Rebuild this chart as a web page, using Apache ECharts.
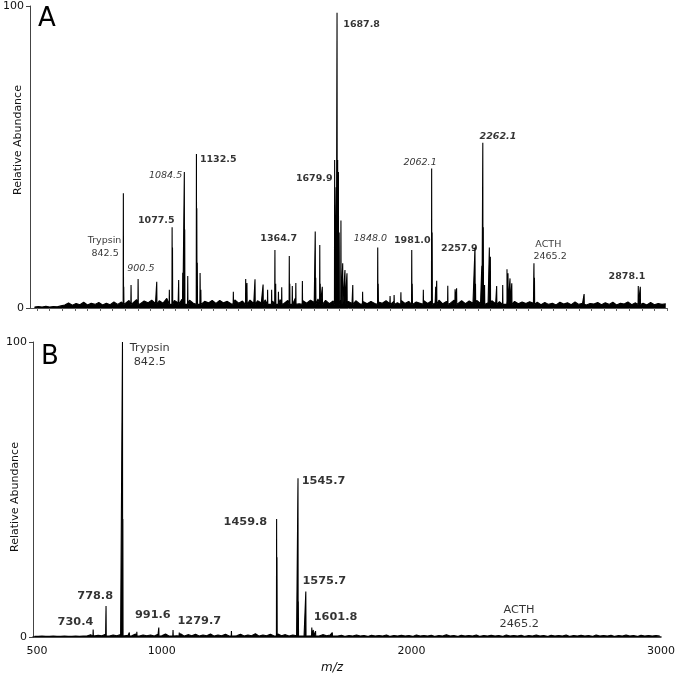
<!DOCTYPE html>
<html><head><meta charset="utf-8">
<script src="https://cdn.jsdelivr.net/npm/echarts@6/dist/echarts.min.js"></script>
<style>html,body{margin:0;padding:0;background:#fff}#c{width:678px;height:674px}</style>
</head><body><div id="c"></div>
<script>
// ---------- Panel A peaks (m/z, relative abundance) ----------
const peaksA_mz = [842.5, 844, 873, 901, 975, 1025, 1036, 1037.5, 1062, 1078, 1084.5, 1086, 1098, 1132.5, 1134, 1136, 1147, 1150,
  1279, 1328, 1333, 1365, 1397, 1415, 1431, 1444, 1447, 1458, 1471, 1501, 1503, 1513, 1527, 1553, 1604, 1606, 1622, 1624, 1632,
  1681, 1687, 1690.5, 1693, 1696, 1699, 1706, 1713, 1722, 1730, 1753, 1792, 1852, 1854, 1901, 1917, 1944, 1987, 1989, 2033,
  2066, 2068, 2082, 2086, 2130, 2159, 2165, 2238, 2240, 2265, 2269, 2271, 2276, 2295, 2299, 2324, 2348, 2365, 2369, 2377, 2384,
  2472, 2474, 2671, 2886, 2894];
const peaksA_h = [38, 7, 7.6, 9.6, 8.7, 6, 26.7, 20, 9.3, 11.7, 45, 26, 10.6, 51, 33, 15, 11.6, 6,
  5.4, 9.6, 8.3, 9.5, 7.8, 6, 6, 19.2, 8, 5.4, 6.9, 17.2, 8, 7.3, 8.3, 8.9, 25.3, 10, 20.9, 8, 7,
  49, 40, 97.8, 49, 45, 25, 29, 14.8, 12.6, 11.5, 7.6, 5.4, 20, 8, 4, 4.3, 5.2, 19.2, 8, 6,
  46.2, 25, 7, 9, 7.4, 6.2, 6.5, 20, 8, 14, 54.7, 26.7, 7.6, 20, 17, 7.3, 7.6, 12.8, 11.5, 9.8, 8.2,
  14.8, 10, 4.6, 7.3, 7];

// ---------- Panel B peaks ----------
const peaksB_mz = [725, 776.6, 842.5, 844, 870, 900, 988, 1045, 1070, 1279, 1460, 1461.5, 1545.7, 1547, 1577, 1601, 1607, 1616, 1683];
const peaksB_h  = [2.5, 10.5, 100, 40, 1.5, 1.8, 3.2, 2.4, 1.5, 2, 40, 27, 53.8, 12, 15.4, 3.2, 2.4, 2, 1.5];

// ---------- Baseline noise (sampled every 15 m/z from 490) ----------
const noiseStart = 490, noiseStep = 15;
const noiseA = [0.3,0.5,0.3,0.6,0.3,0.5,0.4,0.7,
  1.0,1.7,0.9,1.5,1.1,1.9,1.0,1.6,1.2,1.8,1.0,1.6,1.1,2.0,1.2,
  2.0,1.5,2.5,1.6,2.8,1.4,2.3,1.7,2.6,1.5,2.4,1.6,3.2,1.5,2.5,1.7,2.9,1.4,2.6,1.6,2.3,1.5,2.2,1.7,2.5,
  1.5,2.5,1.7,2.2,1.4,2.7,1.6,2.3,1.8,2.6,1.5,2.4,1.7,2.7,1.4,2.3,1.6,2.8,1.5,2.5,1.7,3.2,1.4,2.4,1.6,2.6,1.8,3.0,1.5,2.5,1.4,2.3,1.7,2.6,1.6,2.2,1.5,2.4,1.4,2.1,
  1.4,2.2,1.5,2.0,1.6,2.4,1.4,2.1,1.7,2.5,1.5,2.2,1.4,2.0,1.6,2.4,1.5,2.3,1.7,2.6,1.4,2.2,1.6,2.6,1.5,2.4,1.4,2.3,1.6,2.5,1.5,2.2,1.7,2.4,1.4,2.1,1.5,2.3,1.6,2.2,1.4,2.0,1.5,2.1,1.6,1.9,
  1.1,1.8,1.2,1.6,1.0,1.9,1.3,1.7,1.1,2.0,1.2,1.6,1.0,1.5,1.3,1.8,1.1,1.7,1.2,1.9,1.0,1.6,1.3,2.0,1.1,1.7,1.2,1.6,1.0,1.8,1.1,1.5,1.2,1.4];
const noiseB = [0.2,0.2,0.3,0.2,0.2,0.3,0.2,0.2,0.3,0.2,0.2,0.3,0.2,0.3,
  0.3,0.8,0.3,0.6,0.4,0.9,0.3,0.7,0.4,0.8,0.3,0.6,0.4,1.0,0.3,0.7,0.4,0.7,0.3,0.9,0.4,1.0,0.3,0.7,0.4,1.1,0.3,0.8,0.4,0.9,
  0.3,0.7,0.4,1.0,0.3,0.7,0.4,0.9,0.3,0.8,0.4,0.9,0.3,0.7,0.4,1.1,0.3,0.7,0.4,0.9,0.3,1.0,0.4,0.8,0.3,0.7,0.4,0.9,0.3,0.7,
  0.4,0.9,0.3,0.8,0.4,0.7,0.3,
  0.3,0.6,0.2,0.5,0.3,0.7,0.3,0.5,0.2,0.6,0.3,0.5,0.3,0.7,0.2,0.5,0.3,0.6,0.3,0.5,0.2,0.7,0.3,0.5,0.3,0.6,0.2,0.5,0.3,0.8,
  0.3,0.5,0.2,0.6,0.3,0.5,0.3,0.7,0.2,0.5,0.3,0.6,0.3,0.5,0.2,0.7,0.3,0.5,0.3,0.6,0.2,0.5,0.3,0.7,0.3,0.5,0.2,0.6,0.3,0.5,
  0.3,0.7,0.2,0.5,0.3,0.6,0.3,0.5,0.2,0.7,0.3,0.5,0.3,0.6,0.2,0.5,0.3,0.7,0.3,0.5,0.2,0.6,0.3,0.5,0.3,0.5,0.3];

// ---------- Annotations (text, m/z anchor, abundance anchor, style) ----------
const annA_text = ['Trypsin','842.5','900.5','1077.5','1084.5','1132.5','1364.7','1679.9','1687.8','1848.0','1981.0','2062.1','2257.9','2262.1','ACTH','2465.2','2878.1'];
const annA_mz   = [768, 770, 912, 973, 1010, 1219, 1459, 1600, 1788, 1823, 1989, 2020, 2176, 2329, 2529, 2536, 2841];
const annA_y    = [22.5, 18.1, 13.1, 29.1, 43.7, 49.0, 23.1, 42.9, 94.0, 23.1, 22.5, 48.2, 19.8, 56.7, 20.9, 17.0, 10.4];
const annA_sty  = ['n','n','i','b','i','b','b','b','b','i','b','i','b','bi','n','n','b'];

const annB_text = ['Trypsin','842.5','778.8','730.4','991.6','1279.7','1459.8','1545.7','1575.7','1601.8','ACTH','2465.2'];
const annB_mz   = [952, 952, 733, 654, 964, 1150, 1335, 1648, 1651, 1696, 2431, 2432];
const annB_y    = [97.9, 93.1, 14.0, 5.0, 7.5, 5.5, 39.1, 53.0, 19.1, 6.7, 9.2, 4.4];
const annB_sty  = ['n','n','b','b','b','b','b','b','b','b','n','n'];

const xLabelValues = [500, 1000, 2000, 3000];

// ---------- build ----------
const FONT = 'DejaVu Sans';
function profile(mz, h, noise, base) {
  const pts = [];
  noise.forEach((v, i) => pts.push([noiseStart + noiseStep * i, v]));
  mz.forEach((m, i) => { pts.push([m - 0.8, base], [m, h[i]], [m + 0.8, base]); });
  pts.sort((a, b) => a[0] - b[0]);
  return pts;
}
function annData(text, mz, y, sty, size) {
  return text.map((t, i) => ({
    value: [mz[i], y[i]],
    label: {
      formatter: t,
      fontWeight: sty[i].indexOf('b') >= 0 ? 'bold' : 'normal',
      fontStyle: sty[i].indexOf('i') >= 0 ? 'italic' : 'normal',
      fontSize: size
    }
  }));
}
const tickA = [];
for (let v = 500; v <= 3000; v += 50) tickA.push(v);

const chart = echarts.init(document.getElementById('c'), null, {renderer: 'canvas'});
const yAxisCommon = {
  type: 'value', min: 0, max: 100, interval: 100,
  axisLine: {show: true, lineStyle: {color: '#444', width: 1}},
  axisTick: {show: true, length: 4, lineStyle: {color: '#444'}},
  axisLabel: {fontSize: 11, color: '#111', fontFamily: FONT, margin: 6},
  splitLine: {show: false}
};
const annLabelCommon = {show: true, position: 'inside', color: '#000', fontFamily: FONT};
chart.setOption({
  animation: false,
  backgroundColor: '#fff',
  grid: [
    {left: 30, right: 11, top: 6, height: 302},
    {left: 33, right: 11, top: 342, height: 295}
  ],
  xAxis: [
    {gridIndex: 0, type: 'value', min: 472, max: 3000,
      axisLine: {show: true, lineStyle: {color: '#555', width: 1}},
      axisTick: {show: true, customValues: tickA, length: 3, lineStyle: {color: '#666'}},
      axisLabel: {show: false}, splitLine: {show: false}},
    {gridIndex: 1, type: 'value', min: 484, max: 3000,
      axisLine: {show: true, lineStyle: {color: '#111', width: 1.5}},
      axisTick: {show: false},
      axisLabel: {customValues: xLabelValues, formatter: v => String(v), fontSize: 11, color: '#111', fontFamily: FONT, margin: 9},
      splitLine: {show: false}}
  ],
  yAxis: [
    Object.assign({gridIndex: 0}, yAxisCommon),
    Object.assign({gridIndex: 1}, yAxisCommon)
  ],
  series: [
    {type: 'line', xAxisIndex: 0, yAxisIndex: 0, data: profile(peaksA_mz, peaksA_h, noiseA, 1.2),
      showSymbol: false, symbol: 'none', lineStyle: {color: '#000', width: 1.1},
      areaStyle: {color: '#000', opacity: 1}, sampling: 'none', z: 3},
    {type: 'line', xAxisIndex: 1, yAxisIndex: 1, data: profile(peaksB_mz, peaksB_h, noiseB, 0.3),
      showSymbol: false, symbol: 'none', lineStyle: {color: '#000', width: 1.1},
      areaStyle: {color: '#000', opacity: 1}, sampling: 'none', z: 3},
    {type: 'scatter', xAxisIndex: 0, yAxisIndex: 0, symbolSize: 1, itemStyle: {color: 'rgba(0,0,0,0)'},
      label: annLabelCommon, data: annData(annA_text, annA_mz, annA_y, annA_sty, 9.5), z: 5, silent: true},
    {type: 'scatter', xAxisIndex: 1, yAxisIndex: 1, symbolSize: 1, itemStyle: {color: 'rgba(0,0,0,0)'},
      label: annLabelCommon, data: annData(annB_text, annB_mz, annB_y, annB_sty, 11.3), z: 5, silent: true}
  ],
  graphic: [
    {type: 'text', left: 38, top: 6, style: {text: 'A', fontSize: 26, fontFamily: FONT, fill: '#000'}},
    {type: 'text', left: 41, top: 344, style: {text: 'B', fontSize: 26, fontFamily: FONT, fill: '#000'}},
    {type: 'text', x: 18, y: 140, rotation: Math.PI / 2,
      style: {text: 'Relative Abundance', fontSize: 11, fontFamily: FONT, fill: '#111', align: 'center', verticalAlign: 'middle'}},
    {type: 'text', x: 15, y: 497, rotation: Math.PI / 2,
      style: {text: 'Relative Abundance', fontSize: 11, fontFamily: FONT, fill: '#111', align: 'center', verticalAlign: 'middle'}},
    {type: 'text', x: 332, y: 668,
      style: {text: 'm/z', fontSize: 12, fontStyle: 'italic', fontFamily: FONT, fill: '#111', align: 'center', verticalAlign: 'middle'}}
  ]
});
</script></body></html>
